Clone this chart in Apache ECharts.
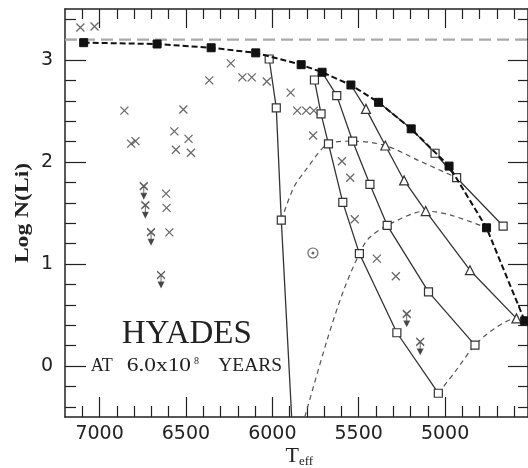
<!DOCTYPE html>
<html><head><meta charset="utf-8">
<script src="https://cdn.jsdelivr.net/npm/echarts@6/dist/echarts.min.js"></script>
<style>html,body{margin:0;padding:0;background:#fff}#c{width:528px;height:468px}</style>
</head><body><div id="c"></div>
<script>
// ---- tick values ----
const xMajorTicks = [5000, 5500, 6000, 6500, 7000];
const xMinorTicks = [4600, 4700, 4800, 4900, 5100, 5200, 5300, 5400, 5600, 5700, 5800, 5900,
                     6100, 6200, 6300, 6400, 6600, 6700, 6800, 6900, 7100];
const yMajorTicks = [0, 1, 2, 3];
const yMinorTicks = [-0.4, -0.2, 0.2, 0.4, 0.6, 0.8, 1.2, 1.4, 1.6, 1.8, 2.2, 2.4, 2.6, 2.8, 3.2, 3.4];

// ---- data (Teff, log N(Li)) ----
const initialLevel = [[7200, 3.2], [4520, 3.2]];
const standardModel = [[7092, 3.17], [6667, 3.157], [6354, 3.12], [6096, 3.07], [5833, 2.954], [5712, 2.88],
                       [5545, 2.755], [5385, 2.585], [5196, 2.325], [4977, 1.96], [4760, 1.355], [4539, 0.443]];
const trackA = [[6018, 3.01], [5977, 2.53], [5948, 1.43], [5888, -0.5]];
const trackAMarked = [0, 1, 2];
const trackB = [[5712, 2.88], [5756, 2.804], [5718, 2.472], [5675, 2.178], [5592, 1.604], [5496, 1.102], [5279, 0.326], [5039, -0.267]];
const trackBMarked = [1, 2, 3, 4, 5, 6, 7];
const trackC = [[5712, 2.88], [5627, 2.651], [5535, 2.204], [5435, 1.78], [5335, 1.379], [5096, 0.727], [4827, 0.205]];
const trackCMarked = [1, 2, 3, 4, 5, 6];
const trackD = [[5545, 2.755], [5458, 2.521], [5346, 2.162], [5237, 1.819], [5112, 1.519], [4856, 0.939], [4587, 0.467]];
const trackDMarked = [1, 2, 3, 4, 5, 6];
const trackE = [[5385, 2.585], [5196, 2.325], [5058, 2.086], [4933, 1.846], [4664, 1.372]];
const trackEMarked = [2, 3, 4];
const isochrone1 = [[5948, 1.43], [5875, 1.754], [5808, 1.917], [5675, 2.178], [5535, 2.204], [5346, 2.162], [5154, 2.015], [4933, 1.846]];
const isochrone2 = [[5812, -0.5], [5683, 0.254], [5587, 0.743], [5496, 1.102], [5443, 1.25], [5335, 1.379], [5112, 1.519], [4962, 1.477], [4760, 1.355]];
const isochrone3 = [[5039, -0.267], [4942, -0.056], [4827, 0.205], [4712, 0.369], [4587, 0.467], [4539, 0.443]];
const hyadesStars = [[7111, 3.319], [7029, 3.329], [6856, 2.504], [6817, 2.18], [6792, 2.205], [6515, 2.514], [6567, 2.30],
                     [6485, 2.227], [6558, 2.12], [6471, 2.09], [6365, 2.80], [6615, 1.69], [6612, 1.55], [6596, 1.31],
                     [6240, 2.967], [6173, 2.83], [6119, 2.83], [6032, 2.79], [5894, 2.68], [5856, 2.504], [5804, 2.504],
                     [5760, 2.504], [5764, 2.26], [5597, 2.008], [5549, 1.846], [5523, 1.438], [5395, 1.053], [5285, 0.88]];
const hyadesUpperLimits = [[6744, 1.761], [6735, 1.575], [6702, 1.31], [6644, 0.89], [5222, 0.509], [5144, 0.235]];
const binaryStar = [[5765, 1.108]];

// ---- chart ----
const INK = '#222';
const X_MIN = 4520, X_MAX = 7200, Y_MIN = -0.5, Y_MAX = 3.5;
function xAx(pos, ticks, len, withLabels, showLine) {
  return {
    type: 'value', position: pos, min: X_MIN, max: X_MAX, inverse: true,
    axisLine: { show: showLine, onZero: false, lineStyle: { color: INK, width: 1.5 } },
    axisTick: { show: true, inside: true, length: len, customValues: ticks, lineStyle: { color: INK, width: 1.2 } },
    axisLabel: withLabels ? { show: true, customValues: ticks, margin: 8, formatter: v => String(v),
      fontFamily: 'DejaVu Sans', fontSize: 19, color: INK } : { show: false },
    splitLine: { show: false }
  };
}
function yAx(pos, ticks, len, withLabels, showLine) {
  return {
    type: 'value', position: pos, min: Y_MIN, max: Y_MAX,
    axisLine: { show: showLine, onZero: false, lineStyle: { color: INK, width: 1.5 } },
    axisTick: { show: true, inside: true, length: len, customValues: ticks, lineStyle: { color: INK, width: 1.2 } },
    axisLabel: withLabels ? { show: true, customValues: ticks, margin: 12, formatter: v => String(v),
      fontFamily: 'DejaVu Sans', fontSize: 19, color: INK } : { show: false },
    splitLine: { show: false }
  };
}
function marked(arr, idx, sym) {
  return arr.map((p, i) => ({ value: p, symbol: idx.indexOf(i) >= 0 ? sym : 'none' }));
}
function track(arr, idx, sym, size) {
  return {
    type: 'line', data: marked(arr, idx, sym), symbolSize: size, showAllSymbol: true, z: 3,
    lineStyle: { color: '#333', width: 1.3 },
    itemStyle: { color: '#fff', borderColor: '#333', borderWidth: 1.2 }
  };
}
function iso(arr) {
  return { type: 'line', data: arr, symbol: 'none', z: 2, smooth: 0.3,
    lineStyle: { color: '#555', width: 1.2, type: [5, 4] } };
}
const crossPath = 'path://M0,0L8,8M8,0L0,8';
const limitPath = 'path://M0,0L8,8M8,0L0,8M4,4L4,15M1.6,12L4,17L6.4,12Z';

const chart = echarts.init(document.getElementById('c'), null, { renderer: 'canvas' });
chart.setOption({
  animation: false,
  backgroundColor: '#fff',
  grid: { left: 65, top: 9, width: 465, height: 408, containLabel: false },
  xAxis: [
    xAx('bottom', xMajorTicks, 20, true, true),
    xAx('bottom', xMinorTicks, 11, false, false),
    xAx('top', xMajorTicks, 19, false, true),
    xAx('top', xMinorTicks, 10, false, false)
  ],
  yAxis: [
    yAx('left', yMajorTicks, 21, true, true),
    yAx('left', yMinorTicks, 11, false, false),
    yAx('right', yMajorTicks, 20, false, true),
    yAx('right', yMinorTicks, 10, false, false)
  ],
  series: [
    { type: 'line', data: initialLevel, symbol: 'none', z: 1,
      lineStyle: { color: '#aaa', width: 2.4, type: [12, 6] } },
    iso(isochrone1), iso(isochrone2), iso(isochrone3),
    track(trackA, trackAMarked, 'rect', 8),
    track(trackB, trackBMarked, 'rect', 8),
    track(trackC, trackCMarked, 'rect', 8),
    track(trackD, trackDMarked, 'triangle', 9),
    track(trackE, trackEMarked, 'rect', 8),
    { type: 'line', data: standardModel, symbol: 'rect', symbolSize: 8, showAllSymbol: true, z: 4,
      lineStyle: { color: '#111', width: 2, type: [6, 3] },
      itemStyle: { color: '#111', borderColor: '#111' } },
    { type: 'scatter', data: hyadesStars, symbol: crossPath, symbolSize: 8, z: 5,
      itemStyle: { color: '#444', borderColor: '#444', borderWidth: 1.3 } },
    { type: 'scatter', data: hyadesUpperLimits, symbol: limitPath, symbolSize: [8, 16], symbolOffset: [0, 4], z: 5,
      itemStyle: { color: '#333', borderColor: '#333', borderWidth: 1.3 } },
    { type: 'scatter', data: binaryStar, symbol: 'circle', symbolSize: 10, z: 5,
      itemStyle: { color: '#fff', borderColor: '#444', borderWidth: 1.2 } },
    { type: 'scatter', data: binaryStar, symbol: 'circle', symbolSize: 3, z: 6,
      itemStyle: { color: '#444' } }
  ],
  graphic: [
    { type: 'text', x: 23, y: 213, rotation: Math.PI / 2, scaleX: 1.31,
      style: { text: 'Log N(Li)', font: 'bold 18px "Liberation Serif"', fill: INK, align: 'center', verticalAlign: 'middle' } },
    { type: 'text', x: 285.5, y: 456.6,
      style: { text: 'T', font: '22px "Liberation Serif"', fill: INK, align: 'left', verticalAlign: 'middle' } },
    { type: 'text', x: 299, y: 461.6,
      style: { text: 'eff', font: '13px "Liberation Serif"', fill: INK, align: 'left', verticalAlign: 'middle' } },
    { type: 'text', x: 121.7, y: 334.6,
      style: { text: 'HYADES', font: '33px "Liberation Serif"', fill: INK, align: 'left', verticalAlign: 'middle' } },
    { type: 'text', x: 90.7, y: 366.2,
      style: { text: 'AT', font: '18px "Liberation Serif"', fill: INK, align: 'left', verticalAlign: 'middle' } },
    { type: 'text', x: 126.7, y: 366.2, scaleX: 1.3,
      style: { text: '6.0x10', font: '18px "Liberation Serif"', fill: INK, align: 'left', verticalAlign: 'middle' } },
    { type: 'text', x: 194, y: 361,
      style: { text: '8', font: '10px "Liberation Serif"', fill: INK, align: 'left', verticalAlign: 'middle' } },
    { type: 'text', x: 218.3, y: 366.2, scaleX: 1.08,
      style: { text: 'YEARS', font: '18px "Liberation Serif"', fill: INK, align: 'left', verticalAlign: 'middle' } }
  ]
});
</script>
</body></html>
